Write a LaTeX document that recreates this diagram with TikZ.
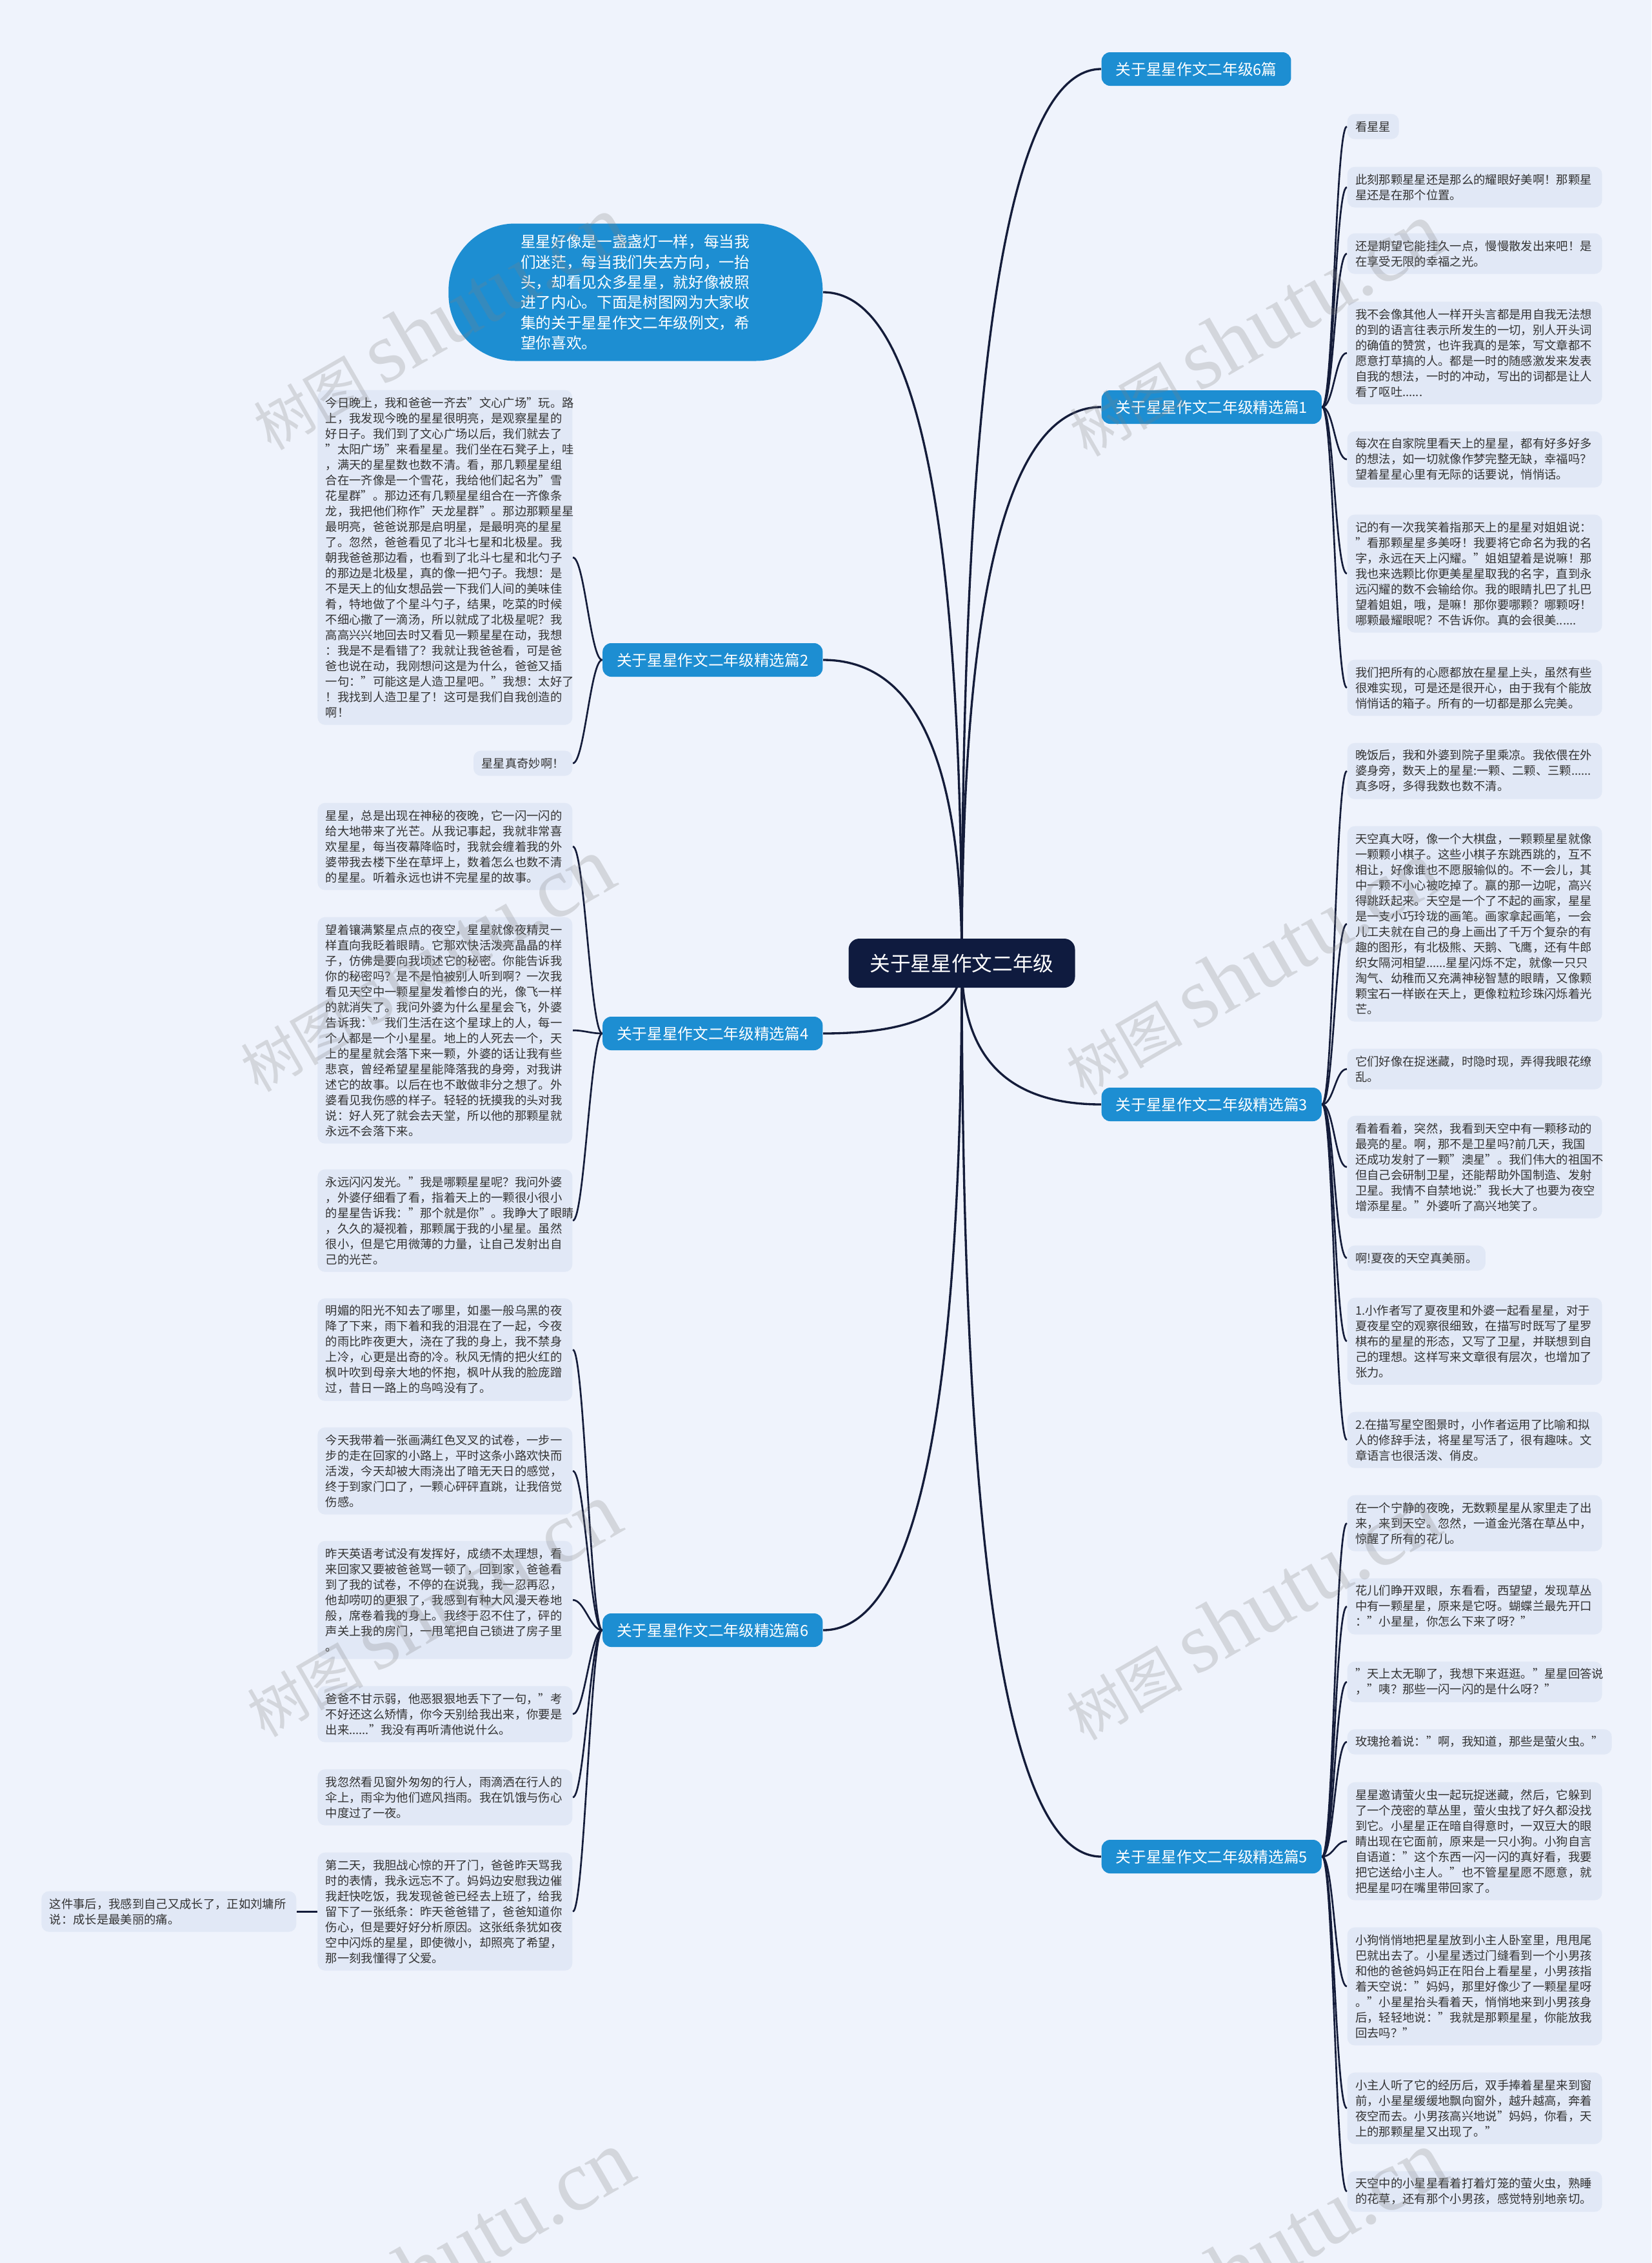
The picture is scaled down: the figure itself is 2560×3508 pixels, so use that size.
\documentclass[tikz,border=0pt]{standalone}
\usepackage{fontspec}
\setmainfont{Noto Sans CJK SC}
\newfontfamily\wmfont{Liberation Serif}
\usetikzlibrary{positioning, calc, backgrounds}
\definecolor{pagebg}{HTML}{EFF3FC}
\definecolor{leafbg}{HTML}{E1E8F6}
\definecolor{topicblue}{HTML}{1D8ED2}
\definecolor{rootnavy}{HTML}{0F1B3F}
\definecolor{linknavy}{HTML}{141C3A}
\definecolor{leaftext}{HTML}{333333}

\begin{document}
\begin{tikzpicture}[x=0.3pt, y=-0.3pt,
    root/.style={fill=rootnavy, text=white, rounded corners=5pt, font=\fontsize{9.5pt}{11pt}\selectfont,
      minimum width=105.3pt, minimum height=22.8pt},
    topic/.style={fill=topicblue, text=white, rounded corners=4pt, font=\fontsize{7.1pt}{8.5pt}\selectfont,
      inner xsep=6.6pt, minimum height=15.6pt},
    intro/.style={fill=topicblue, text=white, rounded corners=31pt, align=left, text width=107pt,
      font=\fontsize{7.1pt}{9.4pt}\selectfont, minimum width=174pt, minimum height=63.9pt},
    shortleaf/.style={fill=leafbg, text=leaftext, rounded corners=3.5pt, align=left,
      font=\fontsize{5.5pt}{7.2pt}\selectfont, inner xsep=3.75pt, inner ysep=1pt,
      minimum height=#1*7.2pt+4.5pt},
    leaf/.style={shortleaf=#1, text width=111pt},
    mainlink/.style={draw=linknavy, line width=1pt},
    leaflink/.style={draw=linknavy, line width=0.8pt},
    wmtext/.style={rotate=30, text=gray, opacity=0.25, font=\fontsize{27pt}{30pt}\selectfont}]

  \useasboundingbox (0,0) rectangle (2560,3508);

  % Centre and main topics
  \node[root] (ctr) at (1491,1493) {关于星星作文二年级};
  \node[intro, anchor=east] (intro) at (1276,453) {星星好像是一盏盏灯一样，每当我\\们迷茫，每当我们失去方向，一抬\\头，却看见众多星星，就好像被照\\进了内心。下面是树图网为大家收\\集的关于星星作文二年级例文，希\\望你喜欢。};
  \node[topic, anchor=west] (b0) at (1707,107) {关于星星作文二年级6篇};
  \node[topic, anchor=west] (b1) at (1707,631) {关于星星作文二年级精选篇1};
  \node[topic, anchor=west] (b3) at (1707,1712) {关于星星作文二年级精选篇3};
  \node[topic, anchor=west] (b5) at (1707,2878) {关于星星作文二年级精选篇5};
  \node[topic, anchor=east] (b2) at (1276,1023) {关于星星作文二年级精选篇2};
  \node[topic, anchor=east] (b4) at (1276,1602) {关于星星作文二年级精选篇4};
  \node[topic, anchor=east] (b6) at (1276,2527) {关于星星作文二年级精选篇6};

  %精选篇1
  \node[shortleaf=1, anchor=north west] (r1a) at (2088,176) {看星星};
  \node[leaf=2, anchor=north west] (r1b) at (2088,258) {此刻那颗星星还是那么的耀眼好美啊！那颗星\\星还是在那个位置。};
  \node[leaf=2, anchor=north west] (r1c) at (2088,361) {还是期望它能挂久一点，慢慢散发出来吧！是\\在享受无限的幸福之光。};
  \node[leaf=6, anchor=north west] (r1d) at (2088,467) {我不会像其他人一样开头言都是用自我无法想\\的到的语言往表示所发生的一切，别人开头词\\的确值的赞赏，也许我真的是笨，写文章都不\\愿意打草搞的人。都是一时的随感激发来发表\\自我的想法，一时的冲动，写出的词都是让人\\看了呕吐......};
  \node[leaf=3, anchor=north west] (r1e) at (2088,668) {每次在自家院里看天上的星星，都有好多好多\\的想法，如一切就像作梦完整无缺，幸福吗？\\望着星星心里有无际的话要说，悄悄话。};
  \node[leaf=7, anchor=north west] (r1f) at (2088,797) {记的有一次我笑着指那天上的星星对姐姐说：\\"看那颗星星多美呀！我要将它命名为我的名\\字，永远在天上闪耀。"姐姐望着是说嘛！那\\我也来选颗比你更美星星取我的名字，直到永\\远闪耀的数不会输给你。我的眼睛扎巴了扎巴\\望着姐姐，哦，是嘛！那你要哪颗？哪颗呀！\\哪颗最耀眼呢？不告诉你。真的会很美......};
  \node[leaf=3, anchor=north west] (r1g) at (2088,1022) {我们把所有的心愿都放在星星上头，虽然有些\\很难实现，可是还是很开心，由于我有个能放\\悄悄话的箱子。所有的一切都是那么完美。};

  % 精选篇3
  \node[leaf=3, anchor=north west] (r3a) at (2088,1151) {晚饭后，我和外婆到院子里乘凉。我依偎在外\\婆身旁，数天上的星星:一颗、二颗、三颗......\\真多呀，多得我数也数不清。};
  \node[leaf=12, anchor=north west] (r3b) at (2088,1280) {天空真大呀，像一个大棋盘，一颗颗星星就像\\一颗颗小棋子。这些小棋子东跳西跳的，互不\\相让，好像谁也不愿服输似的。不一会儿，其\\中一颗不小心被吃掉了。赢的那一边呢，高兴\\得跳跃起来。天空是一个了不起的画家，星星\\是一支小巧玲珑的画笔。画家拿起画笔，一会\\儿工夫就在自己的身上画出了千万个复杂的有\\趣的图形，有北极熊、天鹅、飞鹰，还有牛郎\\织女隔河相望......星星闪烁不定，就像一只只\\淘气、幼稚而又充满神秘智慧的眼睛，又像颗\\颗宝石一样嵌在天上，更像粒粒珍珠闪烁着光\\芒。};
  \node[leaf=2, anchor=north west] (r3c) at (2088,1625) {它们好像在捉迷藏，时隐时现，弄得我眼花缭\\乱。};
  \node[leaf=6, anchor=north west] (r3d) at (2088,1729) {看着看着，突然，我看到天空中有一颗移动的\\最亮的星。啊，那不是卫星吗?前几天，我国\\还成功发射了一颗"澳星"。我们伟大的祖国不\\但自己会研制卫星，还能帮助外国制造、发射\\卫星。我情不自禁地说:"我长大了也要为夜空\\增添星星。"外婆听了高兴地笑了。};
  \node[shortleaf=1, anchor=north west] (r3e) at (2088,1930) {啊!夏夜的天空真美丽。};
  \node[leaf=5, anchor=north west] (r3f) at (2088,2011) {1.小作者写了夏夜里和外婆一起看星星，对于\\夏夜星空的观察很细致，在描写时既写了星罗\\棋布的星星的形态，又写了卫星，并联想到自\\己的理想。这样写来文章很有层次，也增加了\\张力。};
  \node[leaf=3, anchor=north west] (r3g) at (2088,2188) {2.在描写星空图景时，小作者运用了比喻和拟\\人的修辞手法，将星星写活了，很有趣味。文\\章语言也很活泼、俏皮。};

  % 精选篇5
  \node[leaf=3, anchor=north west] (r5a) at (2088,2317) {在一个宁静的夜晚，无数颗星星从家里走了出\\来，来到天空。忽然，一道金光落在草丛中，\\惊醒了所有的花儿。};
  \node[leaf=3, anchor=north west] (r5b) at (2088,2446) {花儿们睁开双眼，东看看，西望望，发现草丛\\中有一颗星星，原来是它呀。蝴蝶兰最先开口\\："小星星，你怎么下来了呀？"};
  \node[leaf=2, anchor=north west] (r5c) at (2088,2575) {"天上太无聊了，我想下来逛逛。"星星回答说\\，"咦？那些一闪一闪的是什么呀？"};
  \node[shortleaf=1, anchor=north west] (r5d) at (2088,2680) {玫瑰抢着说："啊，我知道，那些是萤火虫。"};
  \node[leaf=7, anchor=north west] (r5e) at (2088,2762) {星星邀请萤火虫一起玩捉迷藏，然后，它躲到\\了一个茂密的草丛里，萤火虫找了好久都没找\\到它。小星星正在暗自得意时，一双豆大的眼\\睛出现在它面前，原来是一只小狗。小狗自言\\自语道："这个东西一闪一闪的真好看，我要\\把它送给小主人。"也不管星星愿不愿意，就\\把星星叼在嘴里带回家了。};
  \node[leaf=7, anchor=north west] (r5f) at (2088,2987) {小狗悄悄地把星星放到小主人卧室里，甩甩尾\\巴就出去了。小星星透过门缝看到一个小男孩\\和他的爸爸妈妈正在阳台上看星星，小男孩指\\着天空说："妈妈，那里好像少了一颗星星呀\\。"小星星抬头看着天，悄悄地来到小男孩身\\后，轻轻地说："我就是那颗星星，你能放我\\回去吗？"};
  \node[leaf=4, anchor=north west] (r5g) at (2088,3212) {小主人听了它的经历后，双手捧着星星来到窗\\前，小星星缓缓地飘向窗外，越升越高，奔着\\夜空而去。小男孩高兴地说"妈妈，你看，天\\上的那颗星星又出现了。"};
  \node[leaf=2, anchor=north west] (r5h) at (2088,3365) {天空中的小星星看着打着灯笼的萤火虫，熟睡\\的花草，还有那个小男孩，感觉特别地亲切。};

  % 精选篇2
  \node[leaf=21, anchor=north east] (l2a) at (888,604) {今日晚上，我和爸爸一齐去"文心广场"玩。路\\上，我发现今晚的星星很明亮，是观察星星的\\好日子。我们到了文心广场以后，我们就去了\\"太阳广场"来看星星。我们坐在石凳子上，哇\\，满天的星星数也数不清。看，那几颗星星组\\合在一齐像是一个雪花，我给他们起名为"雪\\花星群"。那边还有几颗星星组合在一齐像条\\龙，我把他们称作"天龙星群"。那边那颗星星\\最明亮，爸爸说那是启明星，是最明亮的星星\\了。忽然，爸爸看见了北斗七星和北极星。我\\朝我爸爸那边看，也看到了北斗七星和北勺子\\的那边是北极星，真的像一把勺子。我想：是\\不是天上的仙女想品尝一下我们人间的美味佳\\肴，特地做了个星斗勺子，结果，吃菜的时候\\不细心撒了一滴汤，所以就成了北极星呢？我\\高高兴兴地回去时又看见一颗星星在动，我想\\：我是不是看错了？我就让我爸爸看，可是爸\\爸也说在动，我刚想问这是为什么，爸爸又插\\一句："可能这是人造卫星吧。"我想：太好了\\！我找到人造卫星了！这可是我们自我创造的\\啊！};
  \node[shortleaf=1, anchor=north east] (l2b) at (888,1163) {星星真奇妙啊！};

  % 精选篇4
  \node[leaf=5, anchor=north east] (l4a) at (888,1244) {星星，总是出现在神秘的夜晚，它一闪一闪的\\给大地带来了光芒。从我记事起，我就非常喜\\欢星星，每当夜幕降临时，我就会缠着我的外\\婆带我去楼下坐在草坪上，数着怎么也数不清\\的星星。听着永远也讲不完星星的故事。};
  \node[leaf=14, anchor=north east] (l4b) at (888,1421) {望着镶满繁星点点的夜空，星星就像夜精灵一\\样直向我眨着眼睛。它那欢快活泼亮晶晶的样\\子，仿佛是要向我顷述它的秘密。你能告诉我\\你的秘密吗？是不是怕被别人听到啊？一次我\\看见天空中一颗星星发着惨白的光，像飞一样\\的就消失了。我问外婆为什么星星会飞，外婆\\告诉我："我们生活在这个星球上的人，每一\\个人都是一个小星星。地上的人死去一个，天\\上的星星就会落下来一颗，外婆的话让我有些\\悲哀，曾经希望星星能降落我的身旁，对我讲\\述它的故事。以后在也不敢做非分之想了。外\\婆看见我伤感的样子。轻轻的抚摸我的头对我\\说：好人死了就会去天堂，所以他的那颗星就\\永远不会落下来。};
  \node[leaf=6, anchor=north east] (l4c) at (888,1812) {永远闪闪发光。"我是哪颗星星呢？我问外婆\\，外婆仔细看了看，指着天上的一颗很小很小\\的星星告诉我："那个就是你"。我睁大了眼睛\\，久久的凝视着，那颗属于我的小星星。虽然\\很小，但是它用微薄的力量，让自己发射出自\\己的光芒。};

  % 精选篇6
  \node[leaf=6, anchor=north east] (l6a) at (888,2012) {明媚的阳光不知去了哪里，如墨一般乌黑的夜\\降了下来，雨下着和我的泪混在了一起，今夜\\的雨比昨夜更大，浇在了我的身上，我不禁身\\上冷，心更是出奇的冷。秋风无情的把火红的\\枫叶吹到母亲大地的怀抱，枫叶从我的脸庞蹭\\过，昔日一路上的鸟鸣没有了。};
  \node[leaf=5, anchor=north east] (l6b) at (888,2212) {今天我带着一张画满红色叉叉的试卷，一步一\\步的走在回家的小路上，平时这条小路欢快而\\活泼，今天却被大雨浇出了暗无天日的感觉，\\终于到家门口了，一颗心砰砰直跳，让我倍觉\\伤感。};
  \node[leaf=7, anchor=north east] (l6c) at (888,2388) {昨天英语考试没有发挥好，成绩不太理想，看\\来回家又要被爸爸骂一顿了，回到家，爸爸看\\到了我的试卷，不停的在说我，我一忍再忍，\\他却唠叨的更狠了，我感到有种大风漫天卷地\\般，席卷着我的身上。我终于忍不住了，砰的\\声关上我的房门，一甩笔把自己锁进了房子里\\。};
  \node[leaf=3, anchor=north east] (l6d) at (888,2613) {爸爸不甘示弱，他恶狠狠地丢下了一句，"考\\不好还这么矫情，你今天别给我出来，你要是\\出来......"我没有再听清他说什么。};
  \node[leaf=3, anchor=north east] (l6e) at (888,2742) {我忽然看见窗外匆匆的行人，雨滴洒在行人的\\伞上，雨伞为他们遮风挡雨。我在饥饿与伤心\\中度过了一夜。};
  \node[leaf=7, anchor=north east] (l6f) at (888,2871) {第二天，我胆战心惊的开了门，爸爸昨天骂我\\时的表情，我永远忘不了。妈妈边安慰我边催\\我赶快吃饭，我发现爸爸已经去上班了，给我\\留下了一张纸条：昨天爸爸错了，爸爸知道你\\伤心，但是要好好分析原因。这张纸条犹如夜\\空中闪烁的星星，即使微小，却照亮了希望，\\那一刻我懂得了父爱。};
  \node[leaf=2, left=9.5pt of l6f] (l6g) {这件事后，我感到自己又成长了，正如刘墉所\\说：成长是最美丽的痛。};

  % Background and connectors
  \begin{scope}[on background layer]
    \fill[pagebg] (0,0) rectangle (2560,3508);
    \foreach \b in {b0,b1,b3,b5}
      \draw[mainlink] (ctr.center) .. controls ($(ctr.center)!.67!(ctr.center |- \b.west)$) and ($(\b.west)!.67!(ctr.center |- \b.west)$) .. (\b.west);
    \foreach \b in {intro,b2,b4,b6}
      \draw[mainlink] (ctr.center) .. controls ($(ctr.center)!.67!(ctr.center |- \b.east)$) and ($(\b.east)!.67!(ctr.center |- \b.east)$) .. (\b.east);
    \foreach \l in {r1a,r1b,r1c,r1d,r1e,r1f,r1g}
      \draw[leaflink] (b1.east) .. controls +(18,0) and +(-18,0) .. (\l.west);
    \foreach \l in {r3a,r3b,r3c,r3d,r3e,r3f,r3g}
      \draw[leaflink] (b3.east) .. controls +(18,0) and +(-18,0) .. (\l.west);
    \foreach \l in {r5a,r5b,r5c,r5d,r5e,r5f,r5g,r5h}
      \draw[leaflink] (b5.east) .. controls +(18,0) and +(-18,0) .. (\l.west);
    \foreach \l in {l2a,l2b}
      \draw[leaflink] (b2.west) .. controls +(-18,0) and +(18,0) .. (\l.east);
    \foreach \l in {l4a,l4b,l4c}
      \draw[leaflink] (b4.west) .. controls +(-18,0) and +(18,0) .. (\l.east);
    \foreach \l in {l6a,l6b,l6c,l6d,l6e,l6f}
      \draw[leaflink] (b6.west) .. controls +(-18,0) and +(18,0) .. (\l.east);
    \draw[leaflink] (l6f.west) -- (l6g.east);
  \end{scope}

  % Watermarks
  \foreach \x/\y in {680/500, 1945/510, 660/1495, 1940/1500, 670/2495, 1940/2500, 690/3500, 1950/3500}
    \node[wmtext] at (\x,\y) {树图 {\wmfont\fontsize{40pt}{44pt}\selectfont shutu.cn}};
\end{tikzpicture}
\end{document}
